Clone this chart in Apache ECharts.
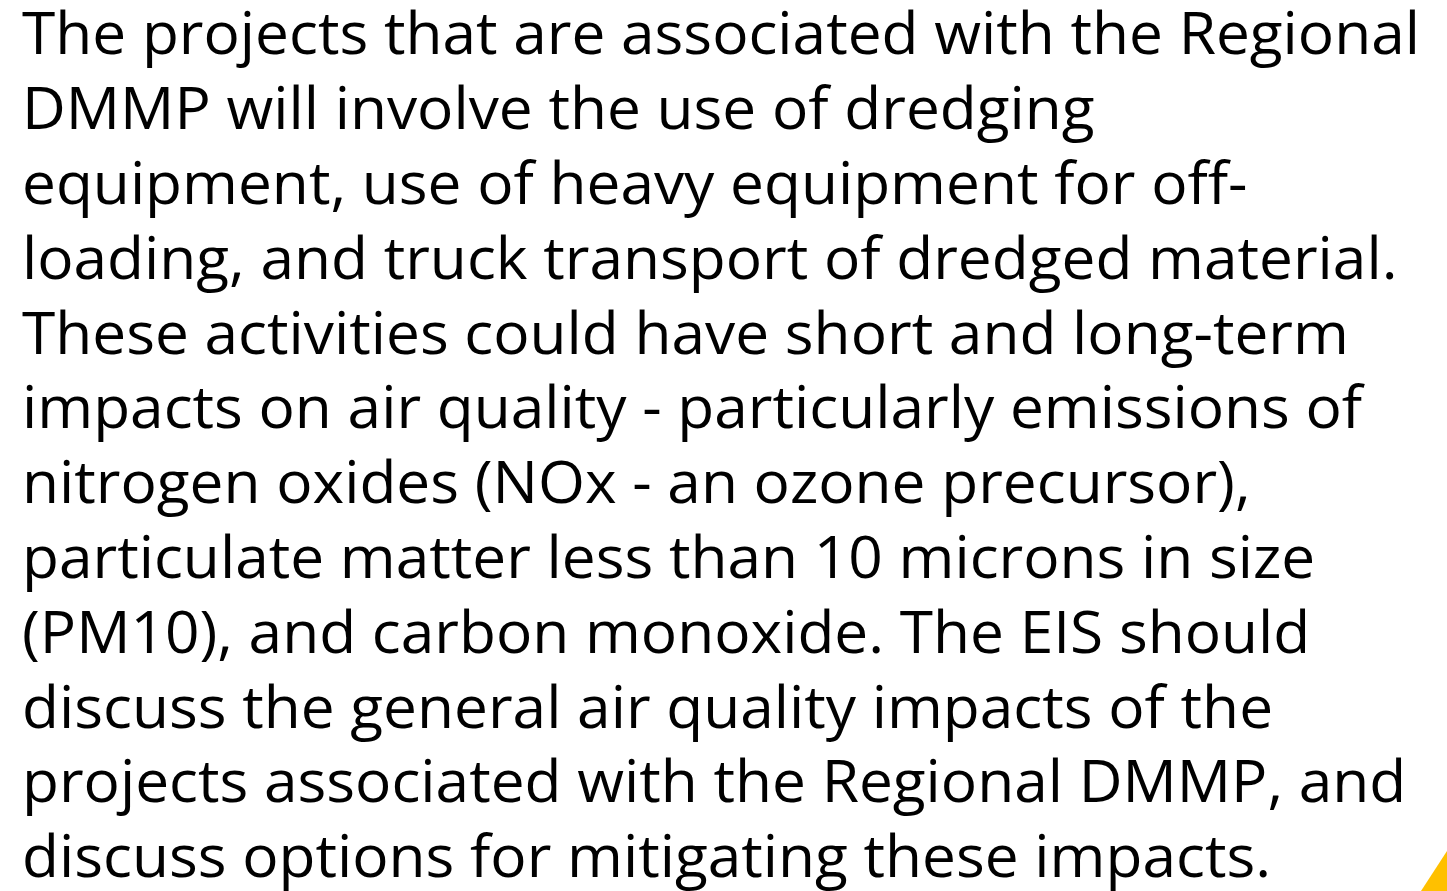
<!DOCTYPE html>
<html><head><meta charset="utf-8">
<script src="https://cdn.jsdelivr.net/npm/echarts@6/dist/echarts.min.js"></script>
<style>html,body{margin:0;padding:0;background:#fff}#c{width:1447px;height:891px}</style>
</head><body><div id="c"></div>
<script>
const lines = [
  "The projects that are associated with the Regional",
  "DMMP will involve the use of dredging",
  "equipment, use of heavy equipment for off-",
  "loading, and truck transport of dredged material.",
  "These activities could have short and long-term",
  "impacts on air quality - particularly emissions of",
  "nitrogen oxides (NOx - an ozone precursor),",
  "particulate matter less than 10 microns in size",
  "(PM10), and carbon monoxide. The EIS should",
  "discuss the general air quality impacts of the",
  "projects associated with the Regional DMMP, and",
  "discuss options for mitigating these impacts."
];
const FONT = "Open Sans";
const SIZE = 59;
const LEFT = 22, FIRST_BASE = 67, STEP = 74.8, TARGET_W = 1398;
const cv = document.createElement('canvas').getContext('2d');
cv.font = SIZE + 'px "' + FONT + '"';
const sx = TARGET_W / cv.measureText(lines[0]).width;
const chart = echarts.init(document.getElementById('c'), null, {renderer:'canvas'});
const els = lines.map((t, i) => ({
  type: 'text', x: LEFT, y: FIRST_BASE + i * STEP, scaleX: sx,
  style: { text: t, font: SIZE + 'px "' + FONT + '"', fill: '#000', textVerticalAlign: 'bottom', verticalAlign: 'bottom' }
}));
els.push({ type: 'polygon', shape: { points: [[1421, 891], [1447, 851], [1447, 891]] }, style: { fill: '#FFC000' } });
chart.setOption({ animation: false, graphic: { elements: els } });
</script></body></html>
